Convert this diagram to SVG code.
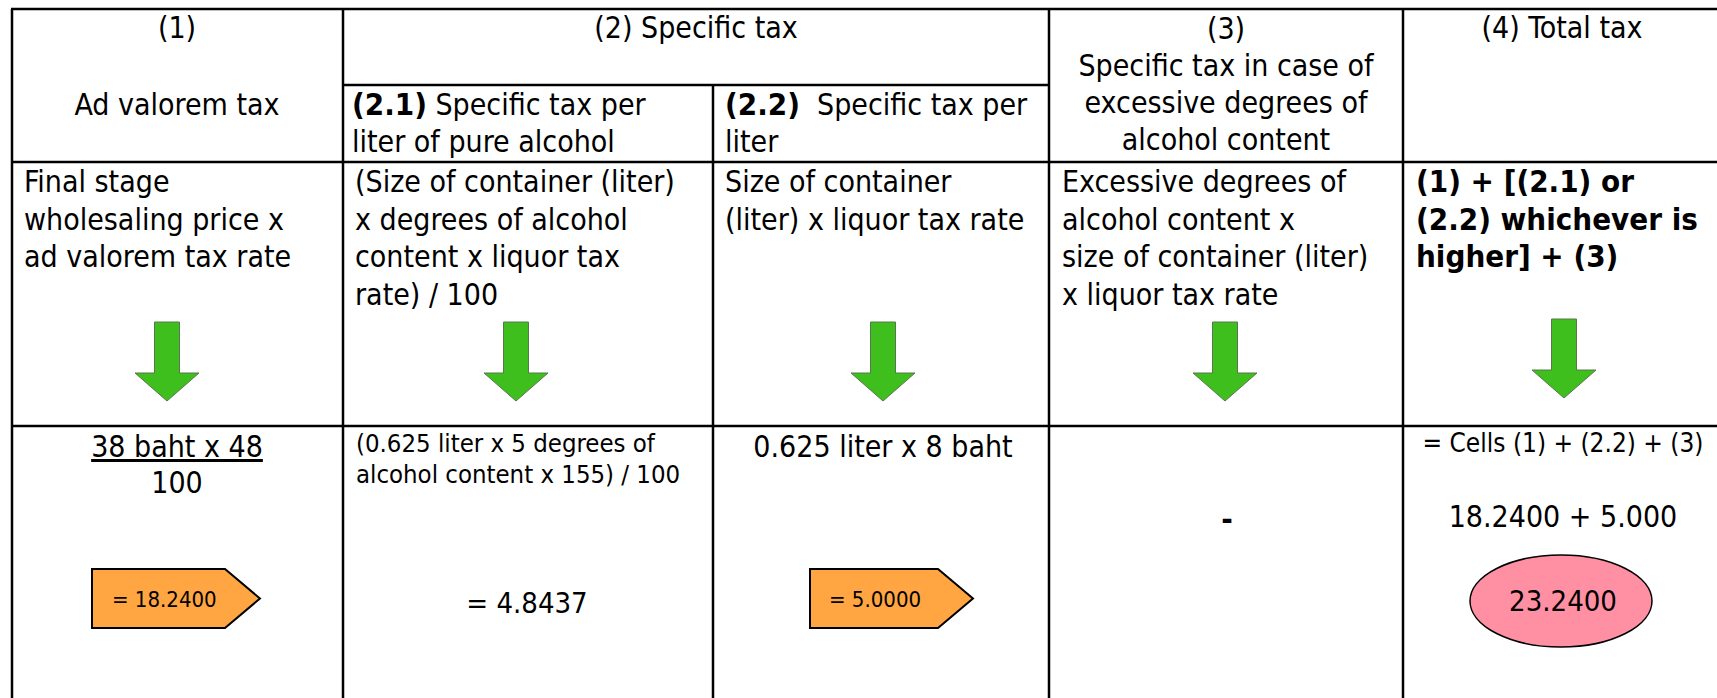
<svg xmlns="http://www.w3.org/2000/svg" width="1717" height="698" viewBox="0 0 1717 698">
<style>
.t{font-family:"DejaVu Sans Condensed","DejaVu Sans",Verdana,sans-serif;font-stretch:condensed;font-size:30px;fill:#000}
.b{font-weight:bold;font-size:31px}
.s22{font-size:22px}
.s25{font-size:25.5px}
.s29{font-size:29px}
.m{text-anchor:middle}
.grid line{stroke:#000;stroke-width:2.5}
.arrow{fill:#3ebf1e;stroke:#56784a;stroke-width:1}
.tag{fill:#ffa541;stroke:#000;stroke-width:2}
.oval{fill:#ff8fa2;stroke:#000;stroke-width:1.5}
</style>
<defs>
<path id="darrow" d="M-12.5,0 H12.5 V51 H32 L0,79 L-32,51 H-12.5 Z"/>
</defs>
<rect width="1717" height="698" fill="#fff"/>
<g id="grid" class="grid">
<line x1="11" y1="9" x2="1717" y2="9"/>
<line x1="12" y1="9" x2="12" y2="698"/>
<line x1="343" y1="9" x2="343" y2="698"/>
<line x1="713" y1="85" x2="713" y2="698"/>
<line x1="1049" y1="9" x2="1049" y2="698"/>
<line x1="1403" y1="9" x2="1403" y2="698"/>
<line x1="343" y1="85" x2="1049" y2="85"/>
<line x1="11" y1="162" x2="1717" y2="162"/>
<line x1="11" y1="426" x2="1717" y2="426"/>
</g>
<g id="connectors">
<use href="#darrow" class="arrow" x="167" y="322"/>
<use href="#darrow" class="arrow" x="516" y="322"/>
<use href="#darrow" class="arrow" x="883" y="322"/>
<use href="#darrow" class="arrow" x="1225" y="322"/>
<use href="#darrow" class="arrow" x="1564" y="319"/>
</g>
<g id="head-1">
<text class="t m" x="177" y="38">(1)</text>
<text class="t m" x="177" y="115">Ad valorem tax</text>
</g>
<g id="head-2">
<text class="t m" x="696" y="38">(2) Specific tax</text>
</g>
<g id="head-2-1">
<text class="t" x="352" y="115"><tspan class="b">(2.1)</tspan> Specific tax per</text>
<text class="t" x="352" y="152">liter of pure alcohol</text>
</g>
<g id="head-2-2">
<text class="t" x="725" y="115" xml:space="preserve"><tspan class="b">(2.2)</tspan>  Specific tax per</text>
<text class="t" x="725" y="152">liter</text>
</g>
<g id="head-3">
<text class="t m" x="1226" y="39">(3)</text>
<text class="t m" x="1226" y="76">Specific tax in case of</text>
<text class="t m" x="1226" y="113">excessive degrees of</text>
<text class="t m" x="1226" y="150">alcohol content</text>
</g>
<g id="head-4">
<text class="t m" x="1562" y="38">(4) Total tax</text>
</g>
<g id="formula-1">
<text class="t" x="24" y="192">Final stage</text>
<text class="t" x="24" y="229.5">wholesaling price x</text>
<text class="t" x="24" y="267">ad valorem tax rate</text>
</g>
<g id="formula-2-1">
<text class="t" x="355" y="192">(Size of container (liter)</text>
<text class="t" x="355" y="229.5">x degrees of alcohol</text>
<text class="t" x="355" y="267">content x liquor tax</text>
<text class="t" x="355" y="304.5">rate) / 100</text>
</g>
<g id="formula-2-2">
<text class="t" x="725" y="192">Size of container</text>
<text class="t" x="725" y="229.5">(liter) x liquor tax rate</text>
</g>
<g id="formula-3">
<text class="t" x="1062" y="192">Excessive degrees of</text>
<text class="t" x="1062" y="229.5">alcohol content x</text>
<text class="t" x="1062" y="267">size of container (liter)</text>
<text class="t" x="1062" y="304.5">x liquor tax rate</text>
</g>
<g id="formula-4">
<text class="t b" x="1416" y="192">(1) + [(2.1) or</text>
<text class="t b" x="1416" y="229.5">(2.2) whichever is</text>
<text class="t b" x="1416" y="267">higher] + (3)</text>
</g>
<g id="calc-1">
<text class="t m" x="177" y="457" text-decoration="underline">38 baht x 48</text>
<text class="t m" x="177" y="493">100</text>
</g>
<g id="result-1">
<path class="tag" d="M92,569 H225 L260,598.5 L225,628 H92 Z"/>
<text class="t s22" x="112" y="607">= 18.2400</text>
</g>
<g id="calc-2-1">
<text class="t s25" x="356" y="452">(0.625 liter x 5 degrees of</text>
<text class="t s25" x="356" y="483">alcohol content x 155) / 100</text>
<text class="t m s29" x="527" y="613">= 4.8437</text>
</g>
<g id="calc-2-2">
<text class="t m" x="883" y="457">0.625 liter x 8 baht</text>
</g>
<g id="result-2-2">
<path class="tag" d="M810,569 H938 L973,598.5 L938,628 H810 Z"/>
<text class="t s22" x="829" y="607">= 5.0000</text>
</g>
<g id="calc-3">
<text class="t b m" x="1227" y="530">-</text>
</g>
<g id="calc-4">
<text class="t m" x="1563" y="452" style="font-size:26px">= Cells (1) + (2.2) + (3)</text>
<text class="t m" x="1563" y="527">18.2400 + 5.000</text>
</g>
<g id="result-4">
<ellipse class="oval" cx="1561" cy="601" rx="91" ry="46"/>
<text class="t m s29" x="1563" y="611">23.2400</text>
</g>
</svg>
